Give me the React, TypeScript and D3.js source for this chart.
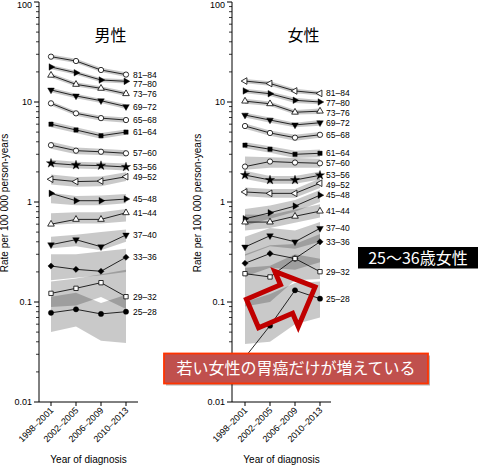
import React from 'react';
import * as d3 from 'd3';

// incidence data, rate per 100 000 person-years
const periods = ['1998–2001', '2002–2005', '2006–2009', '2010–2013'];
const ageGroups = ['81–84', '77–80', '73–76', '69–72', '65–68', '61–64', '57–60', '53–56',
  '49–52', '45–48', '41–44', '37–40', '33–36', '29–32', '25–28'];
const yTicks = [100, 10, 1, 0.1, 0.01];

const maleRate = [
  [28.4, 25.7, 20.9, 18.8],
  [22.4, 19.6, 16.6, 16.1],
  [18.5, 15.0, 13.7, 12.1],
  [13.2, 11.5, 10.3, 9.0],
  [9.7, 7.7, 6.9, 6.6],
  [6.0, 5.25, 4.6, 5.0],
  [3.7, 3.26, 3.18, 3.07],
  [2.44, 2.34, 2.31, 2.24],
  [1.69, 1.60, 1.62, 1.79],
  [1.22, 1.03, 1.03, 1.07],
  [0.60, 0.67, 0.67, 0.78],
  [0.374, 0.42, 0.357, 0.468],
  [0.229, 0.212, 0.203, 0.28],
  [0.122, 0.137, 0.156, 0.113],
  [0.078, 0.0845, 0.076, 0.080],
];
const maleLow = [
  [27, 24.5, 19.9, 17.8],
  [21.3, 18.7, 15.8, 15.3],
  [17.6, 14.3, 13.0, 11.5],
  [12.5, 10.9, 9.8, 8.5],
  [9.2, 7.3, 6.5, 6.2],
  [5.6, 4.9, 4.3, 4.7],
  [3.4, 3.0, 2.95, 2.85],
  [2.25, 2.16, 2.13, 2.07],
  [1.5, 1.42, 1.44, 1.62],
  [0.97, 0.93, 0.93, 0.97],
  [0.59, 0.61, 0.61, 0.64],
  [0.345, 0.36, 0.33, 0.40],
  [0.165, 0.175, 0.185, 0.20],
  [0.089, 0.092, 0.112, 0.085],
  [0.050, 0.057, 0.041, 0.039],
];
const maleHigh = [
  [29.8, 27, 22, 19.8],
  [23.5, 20.5, 17.4, 16.9],
  [19.4, 15.8, 14.4, 12.7],
  [13.9, 12.1, 10.8, 9.5],
  [10.2, 8.1, 7.3, 7.0],
  [6.4, 5.6, 4.9, 5.3],
  [4.0, 3.5, 3.4, 3.3],
  [2.64, 2.52, 2.49, 2.42],
  [1.88, 1.78, 1.8, 1.98],
  [1.24, 1.15, 1.16, 1.2],
  [0.77, 0.79, 0.79, 0.85],
  [0.45, 0.47, 0.50, 0.53],
  [0.30, 0.30, 0.32, 0.34],
  [0.16, 0.172, 0.19, 0.21],
  [0.113, 0.124, 0.098, 0.118],
];

const femaleRate = [
  [16.2, 15.3, 12.9, 12.2],
  [12.9, 12.1, 10.4, 10.0],
  [10.2, 9.6, 7.9, 8.1],
  [7.4, 6.6, 5.9, 6.2],
  [5.75, 4.9, 4.4, 4.7],
  [3.7, 3.37, 3.0, 3.07],
  [2.26, 2.54, 2.48, 2.44],
  [1.86, 1.66, 1.66, 1.85],
  [1.26, 1.22, 1.22, 1.54],
  [0.68, 0.78, 0.91, 1.17],
  [0.63, 0.63, 0.72, 0.81],
  [0.355, 0.46, 0.40, 0.545],
  [0.244, 0.305, 0.272, 0.40],
  [0.192, 0.178, 0.272, 0.201],
  [0.028, 0.058, 0.131, 0.108],
];
const femaleLow = [
  [15.4, 14.5, 12.2, 11.6],
  [12.2, 11.5, 9.8, 9.5],
  [9.6, 9.1, 7.5, 7.6],
  [7.0, 6.2, 5.6, 5.8],
  [5.4, 4.6, 4.1, 4.4],
  [3.45, 3.1, 2.75, 2.8],
  [2.1, 2.2, 2.2, 2.2],
  [1.7, 1.52, 1.52, 1.68],
  [1.14, 1.1, 1.1, 1.38],
  [0.58, 0.68, 0.8, 1.0],
  [0.52, 0.55, 0.62, 0.7],
  [0.29, 0.36, 0.34, 0.40],
  [0.18, 0.22, 0.21, 0.25],
  [0.09, 0.10, 0.165, 0.17],
  [0.038, 0.04, 0.06, 0.07],
];
const femaleHigh = [
  [17.0, 16.1, 13.6, 12.8],
  [13.6, 12.7, 11.0, 10.5],
  [10.8, 10.1, 8.3, 8.6],
  [7.8, 7.0, 6.2, 6.6],
  [6.1, 5.2, 4.7, 5.0],
  [3.95, 3.6, 3.25, 3.35],
  [2.85, 2.8, 2.75, 2.7],
  [2.05, 1.82, 1.82, 2.02],
  [1.4, 1.35, 1.35, 1.72],
  [0.85, 0.92, 1.05, 1.32],
  [0.75, 0.74, 0.84, 0.95],
  [0.45, 0.55, 0.52, 0.63],
  [0.30, 0.37, 0.38, 0.48],
  [0.22, 0.23, 0.30, 0.27],
  [0.10, 0.12, 0.155, 0.16],
];

const maleMarkers = ['circleOpen', 'triRight', 'triUpOpen', 'triDown', 'circleOpen', 'square', 'circleOpen',
  'star', 'triLeftOpen', 'triRight', 'triUpOpen', 'triDown', 'diamond', 'squareOpen', 'circle'];
const femaleMarkers = ['triLeftOpen', 'triRight', 'triUpOpen', 'triDown', 'circleOpen', 'square', 'circleOpen',
  'star', 'triLeftOpen', 'triRight', 'triUpOpen', 'triDown', 'diamond', 'squareOpen', 'circle'];

const latin = '"Liberation Sans", Arial, sans-serif';
const cjk = '"Noto Sans CJK JP", sans-serif';

const yScale = d3.scaleLog().domain([0.01, 100]).range([402, 2]);

function markerShape(kind: string) {
  const base = kind.replace('Open', '');
  let type: d3.SymbolType = d3.symbolCircle;
  let size = 22;
  let rot = 0;
  if (base === 'square') { type = d3.symbolSquare; size = 19; }
  if (base === 'diamond') { type = d3.symbolSquare; size = 19; rot = 45; }
  if (base === 'star') { type = d3.symbolStar; size = 26; }
  if (base.startsWith('tri')) {
    type = d3.symbolTriangle; size = 19;
    rot = base === 'triRight' ? 90 : base === 'triDown' ? 180 : base === 'triLeft' ? -90 : 0;
  }
  return { d: d3.symbol(type, size)() as string, rot, open: kind.endsWith('Open') };
}

type PanelProps = {
  axisX: number;
  x0: number;
  title: string;
  rates: number[][];
  lows: number[][];
  highs: number[][];
  markers: string[];
};

function Panel({ axisX, x0, title, rates, lows, highs, markers }: PanelProps) {
  const xScale = d3.scalePoint<string>().domain(periods).range([x0, x0 + 75]);
  const axisEnd = axisX + 99;
  const baseY = yScale(0.01);

  const line = d3.line<number>()
    .x((d, i) => xScale(periods[i]) as number)
    .y(d => yScale(d));
  const area = d3.area<number[]>()
    .x((d, i) => xScale(periods[i]) as number)
    .y0(d => yScale(d[0]))
    .y1(d => yScale(d[1]));

  // series labels sit at the last value, nudged apart
  const labelY: number[] = [];
  rates.forEach((r, i) => {
    let y = yScale(r[r.length - 1]);
    if (i > 0 && y < labelY[i - 1] + 9.8) y = labelY[i - 1] + 9.8;
    labelY.push(y);
  });

  const minor: number[] = [];
  [0.01, 0.1, 1, 10].forEach(dec => {
    for (let k = 2; k <= 9; k++) minor.push(dec * k);
  });

  const midX = (axisX + axisEnd) / 2;

  return (
    <g>
      <g>
        {ageGroups.map((g, i) => (
          <path key={g} d={area(lows[i].map((lo, j) => [lo, highs[i][j]])) as string}
            fill="#000" fillOpacity={0.21} stroke="none" />
        ))}
      </g>
      <g>
        {ageGroups.map((g, i) => (
          <path key={g} d={line(rates[i]) as string} fill="none" stroke="#111" strokeWidth={0.9} />
        ))}
      </g>
      <g>
        {ageGroups.map((g, i) => {
          const m = markerShape(markers[i]);
          return rates[i].map((v, j) => (
            <path key={g + j} d={m.d}
              transform={`translate(${xScale(periods[j])},${yScale(v)}) rotate(${m.rot})`}
              fill={m.open ? '#fff' : '#000'} stroke="#000" strokeWidth={m.open ? 0.8 : 0.4} />
          ));
        })}
      </g>
      <g fontFamily={latin} fontSize={8.5} fill="#000">
        {ageGroups.map((g, i) => (
          <text key={g} x={axisEnd - 5} y={labelY[i]} dy="0.35em">{g}</text>
        ))}
      </g>

      {/* y axis */}
      <line x1={axisX} x2={axisX} y1={yScale(100)} y2={baseY} stroke="#000" strokeWidth={1} />
      {minor.map(v => (
        <line key={v} x1={axisX - 3} x2={axisX} y1={yScale(v)} y2={yScale(v)} stroke="#000" strokeWidth={0.8} />
      ))}
      {yTicks.map(v => (
        <g key={v}>
          <line x1={axisX - 5} x2={axisX} y1={yScale(v)} y2={yScale(v)} stroke="#000" strokeWidth={1} />
          <text x={axisX - 7} y={Math.max(yScale(v), 4.5)} dy="0.35em" textAnchor="end" fontFamily={latin} fontSize={9}>
            {String(v)}
          </text>
        </g>
      ))}
      <text transform={`translate(${axisX - 31},${203}) rotate(-90)`} textAnchor="middle"
        fontFamily={latin} fontSize={10}>Rate per 100 000 person-years</text>

      {/* x axis */}
      <line x1={axisX} x2={axisEnd} y1={baseY} y2={baseY} stroke="#000" strokeWidth={1} />
      {periods.map(p => (
        <g key={p}>
          <line x1={xScale(p)} x2={xScale(p)} y1={baseY} y2={baseY + 4} stroke="#000" strokeWidth={1} />
          <text transform={`translate(${(xScale(p) as number) + 3},${baseY + 9}) rotate(-45)`}
            textAnchor="end" fontFamily={latin} fontSize={9}>{p}</text>
        </g>
      ))}
      <text x={midX} y={463} textAnchor="middle" fontFamily={latin} fontSize={10}>Year of diagnosis</text>

      <text x={midX + 22} y={41} textAnchor="middle" fontFamily={cjk} fontSize={16}>{title}</text>
    </g>
  );
}

function Annotations() {
  // outlined arrow, built along its own axis then turned
  const arrow = [[0, -15.5], [37, -15.5], [37, -30], [68, 0], [37, 30], [37, 15.5], [0, 15.5]];
  return (
    <g>
      <path d={(d3.line()(arrow as [number, number][]) as string) + 'Z'}
        transform="translate(252.5,313.5) rotate(-23)"
        fill="none" stroke="#c00000" strokeWidth={5} strokeLinejoin="miter" />

      <rect x={358} y={247} width={120} height={21.5} fill="#000" />
      <text x={418} y={258} dy="0.36em" textAnchor="middle" fill="#fff" fontFamily={cjk} fontSize={16}>
        25～36歳女性
      </text>

      <rect x={166} y={355.5} width={264} height={30} fill="#000" opacity={0.3} />
      <rect x={164} y={353.5} width={264} height={30} fill="#c0504d" stroke="#ff3300" strokeWidth={1.8} />
      <text x={296} y={368.5} dy="0.36em" textAnchor="middle" fill="#fff" fontFamily={cjk} fontSize={16}>
        若い女性の胃癌だけが増えている
      </text>
    </g>
  );
}

export default function App() {
  return (
    <svg width={480} height={469} style={{ position: 'absolute', left: 0, top: 0, background: '#fff' }}>
      <Panel axisX={39} x0={51} title="男性" rates={maleRate} lows={maleLow} highs={maleHigh} markers={maleMarkers} />
      <Panel axisX={232} x0={245} title="女性" rates={femaleRate} lows={femaleLow} highs={femaleHigh} markers={femaleMarkers} />
      <Annotations />
    </svg>
  );
}
